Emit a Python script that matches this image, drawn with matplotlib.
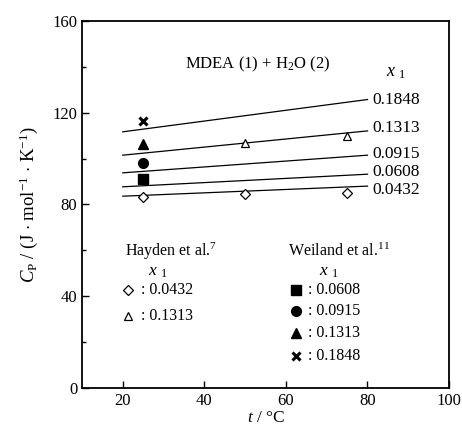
import numpy as np
import matplotlib.pyplot as plt

plt.rcParams['font.family'] = ['Liberation Serif', 'DejaVu Serif']
plt.rcParams['mathtext.fontset'] = 'custom'
plt.rcParams['mathtext.rm'] = 'Liberation Serif'
plt.rcParams['mathtext.it'] = 'Liberation Serif:italic'

# correlation lines (t from 20 to 80 C)
line_x1 = ['0.1848', '0.1313', '0.0915', '0.0608', '0.0432']
line_t = [20, 80]
line_cp = [[111.7, 125.8], [101.5, 112.1], [93.8, 101.5], [87.7, 93.2], [83.6, 88.0]]
label_cp = [125.8, 113.3, 102.2, 94.0, 86.2]

# Hayden et al.
hay_diamond_t = [25, 50, 75]
hay_diamond_cp = [83.3, 84.5, 84.8]
hay_tri_t = [50, 75]
hay_tri_cp = [106.9, 109.8]

# Weiland et al.
wei_t = [25, 25, 25, 25]
wei_cp = [91.3, 97.9, 106.3, 116.5]
wei_x1 = ['0.0608', '0.0915', '0.1313', '0.1848']
wei_markers = ['s', 'o', '^', 'x']

fig = plt.figure(figsize=(4.62, 4.32), dpi=100)
ax = fig.add_axes([0.1775, 0.1025, 0.7945, 0.8485])

for cp in line_cp:
    ax.plot(line_t, cp, color='black', lw=0.9)
for lab, y in zip(line_x1, label_cp):
    ax.text(81.3, y, lab, fontsize=12.5, va='center', ha='left')
ax.text(84.5, 137.5, r'$x$ $_{\rm 1}$', fontsize=13, va='center', ha='left')
ax.text(53, 141, r'MDEA (1) + H$_2$O (2)', fontsize=12, ha='center', va='center')

ax.plot(hay_diamond_t, hay_diamond_cp, 'D', ms=5, mfc='white', mec='black', mew=0.9, ls='none')
ax.plot(hay_tri_t, hay_tri_cp, '^', ms=6, mfc='white', mec='black', mew=0.9, ls='none')
for t, m, cp in zip(wei_t, wei_markers, wei_cp):
    if m == 'x':
        ax.plot(t, cp, 'x', ms=6, mec='black', mew=2.2)
    else:
        ax.plot(t, cp, m, ms=7, color='black')

# legend blocks
ax.text(20.5, 59.5, r'Hayden et al.$^{7}$', fontsize=11.5, ha='left', va='center')
ax.text(28.5, 50.5, r'$x$ $_{\rm 1}$', fontsize=12.5, ha='center', va='center')
ax.plot(21.2, 42.5, 'D', ms=5, mfc='white', mec='black', mew=0.9)
ax.text(24.5, 42.5, ': 0.0432', fontsize=11.5, ha='left', va='center')
ax.plot(21.2, 31.5, '^', ms=6, mfc='white', mec='black', mew=0.9)
ax.text(24.5, 31.5, ': 0.1313', fontsize=11.5, ha='left', va='center')

ax.text(60.5, 59.5, r'Weiland et al.$^{11}$', fontsize=11.5, ha='left', va='center')
ax.text(70.5, 50.5, r'$x$ $_{\rm 1}$', fontsize=12.5, ha='center', va='center')
wy = [42.5, 33.5, 24, 14]
for m, y, lab in zip(wei_markers, wy, wei_x1):
    if m == 'x':
        ax.plot(62.5, y, 'x', ms=6, mec='black', mew=2.2)
    else:
        ax.plot(62.5, y, m, ms=7, color='black')
    ax.text(65.5, y, ': ' + lab, fontsize=11.5, ha='left', va='center')

ax.set_xlim(10, 100)
ax.set_ylim(0, 160)
ax.set_xticks([20, 40, 60, 80, 100])
ax.set_yticks([0, 40, 80, 120, 160])
ax.set_yticks([20, 60, 100, 140], minor=True)
ax.tick_params(direction='in', labelsize=12, length=5, width=1, top=False, right=False)
ax.tick_params(which='minor', direction='in', length=3, width=1)
for s in ax.spines.values():
    s.set_linewidth(1.3)
ax.set_xlabel(r'$t$ / °C', fontsize=12.5, labelpad=1)
ax.set_ylabel(r'$C_{\rm P}$ / (J $\cdot$ mol$^{-1}$ $\cdot$ K$^{-1}$)', fontsize=13.5, labelpad=9)

fig.savefig('out.png', dpi=100)
